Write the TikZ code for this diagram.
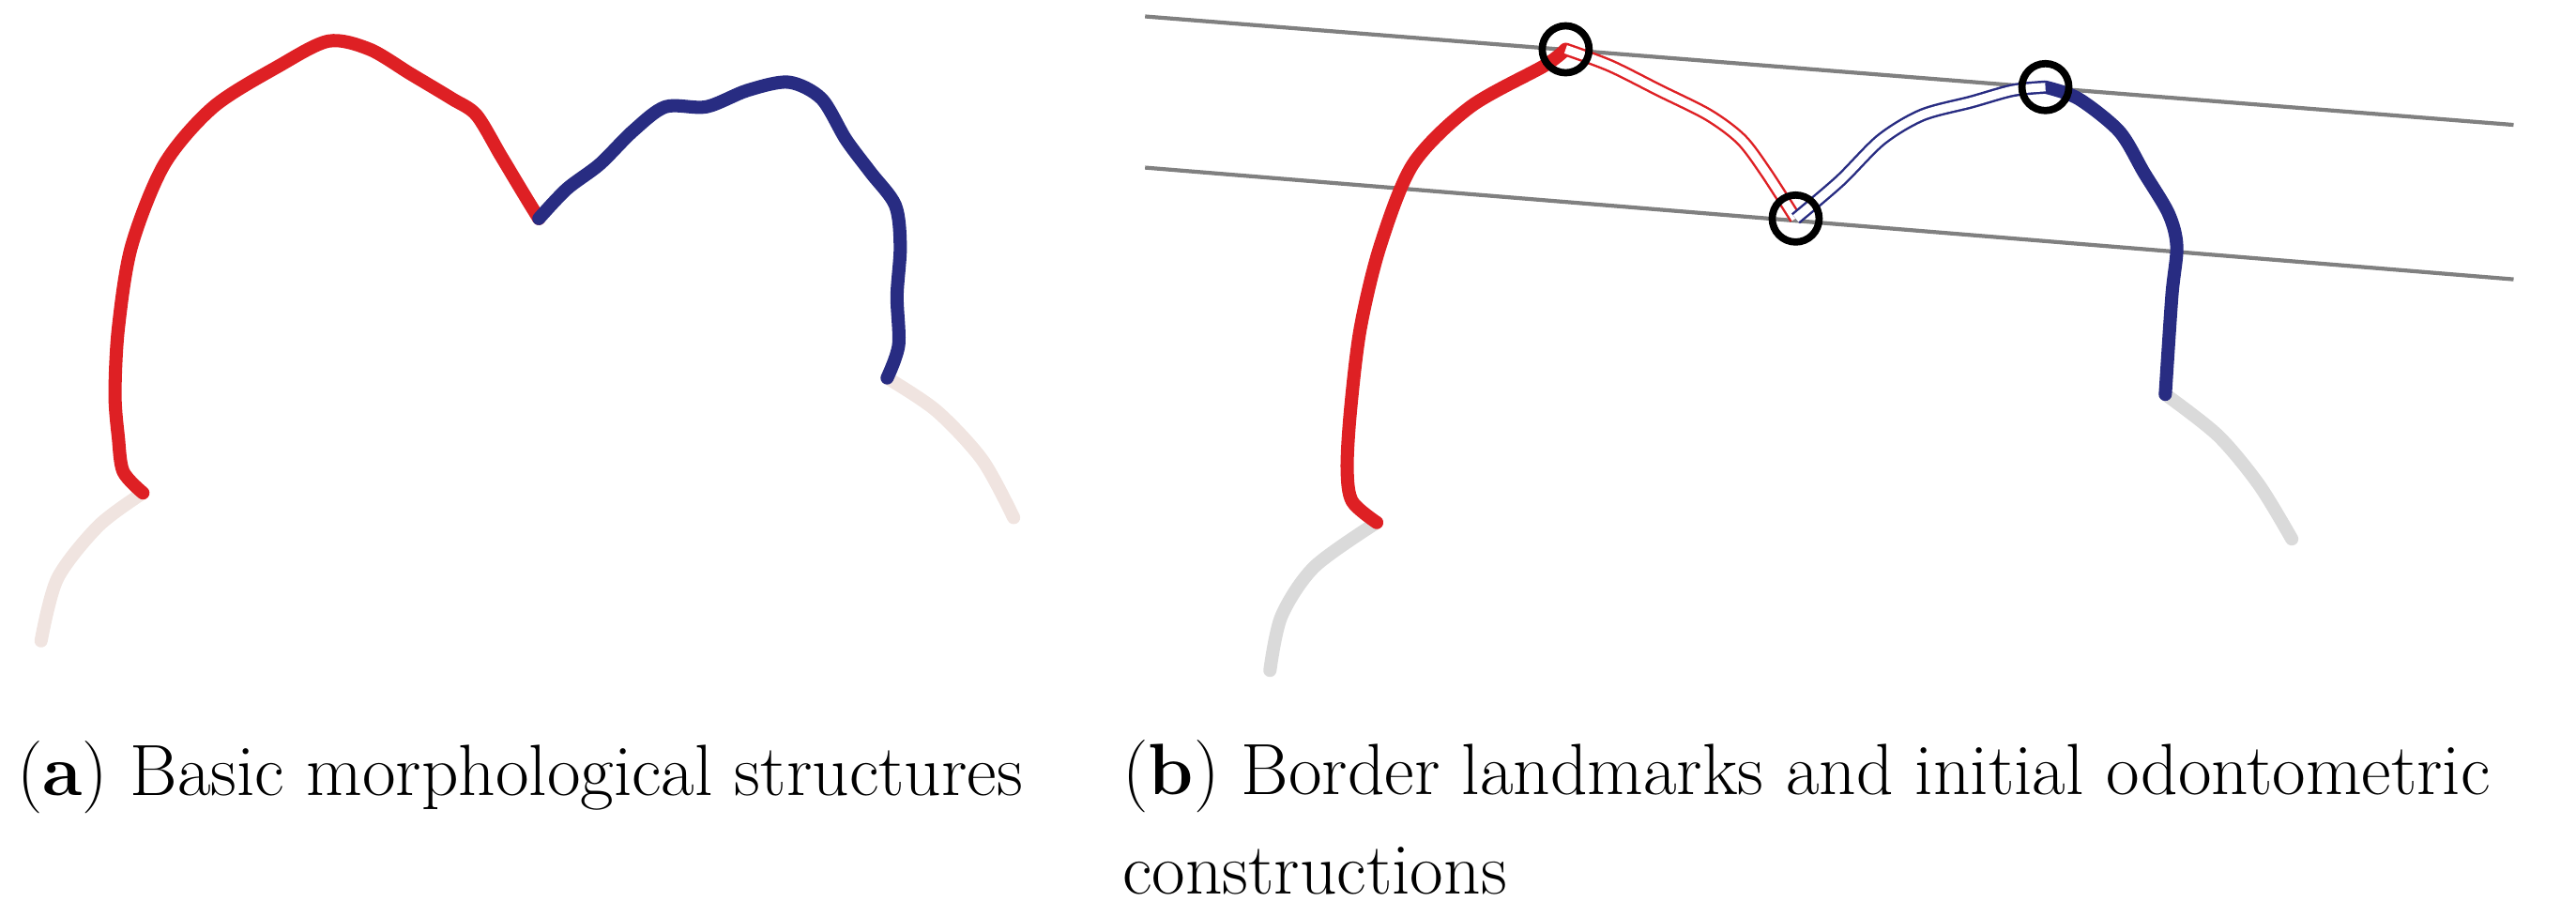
\documentclass[tikz,border=0pt]{standalone}
\usetikzlibrary{positioning}
\definecolor{crownred}{RGB}{222,32,36}
\definecolor{crownblue}{RGB}{40,44,130}
\definecolor{rootpale}{RGB}{240,228,224}
\definecolor{rootgray}{RGB}{218,218,218}
\tikzset{
	crown/.style={line width=4pt, line cap=round, line join=round},
	root/.style={line width=4pt, line cap=round},
	twin/.style={line width=0.7pt, double=white, double distance=2.6pt},
	landmark/.style={draw, circle, line width=2.2pt, minimum size=0.5cm, inner sep=0pt},
	caption/.style={font=\fontsize{22}{30}\selectfont, anchor=base west, align=left, inner sep=0pt}
}
\begin{document}
\begin{tikzpicture}[x=0.0175cm, y=-0.0175cm]
	\useasboundingbox (0,0) rectangle (1568,558);

	% panel a
	\draw [root, rootpale] plot[smooth] coordinates {(87,300) (60,320) (35,352) (25,390)};
	\draw [root, rootpale] plot[smooth] coordinates {(540,230) (570,250) (598,280) (617,315)};
	\draw [crown, crownred] plot[smooth, tension=0.5] coordinates {(87,300) (75,287) (72,266) (70,240) (72,200) (80,150) (100,100) (130,65) (170,40) (200,25) (225,30) (250,45) (275,60) (290,70) (305,95) (320,120) (328,133)};
	\draw [crown, crownblue] plot[smooth, tension=0.5] coordinates {(328,133) (345,115) (365,100) (385,80) (405,65) (430,65) (455,55) (480,50) (500,60) (515,85) (530,105) (545,125) (548,150) (546,180) (547,210) (540,230)};

	% panel b
	\draw [gray, line width=1.2pt] (697,10) -- (1530,76);
	\draw [gray, line width=1.2pt] (697,102) -- (1530,170);
	\draw [root, rootgray] plot[smooth] coordinates {(838,318) (800,345) (780,375) (773,408)};
	\draw [root, rootgray] plot[smooth] coordinates {(1318,240) (1350,265) (1375,295) (1395,328)};
	\draw [crown, crownred] plot[smooth, tension=0.5] coordinates {(838,318) (823,305) (820,285) (822,250) (828,200) (840,150) (860,100) (895,65) (940,40) (953,30)};
	\draw [crown, crownblue] plot[smooth, tension=0.5] coordinates {(1245,53) (1265,60) (1290,80) (1305,105) (1320,130) (1325,150) (1322,180) (1318,240)};
	\draw [twin, crownred] plot[smooth, tension=0.5] coordinates {(953,30) (980,40) (1010,55) (1040,70) (1060,85) (1075,105) (1093,133)};
	\draw [twin, crownblue] plot[smooth, tension=0.5] coordinates {(1093,133) (1120,110) (1145,85) (1170,70) (1200,62) (1225,55) (1245,53)};

	\node [landmark] (cuspL) at (953,30) {};
	\node [landmark] (fossa) at (1093,133) {};
	\node [landmark] (cuspR) at (1245,53) {};

	% captions
	\node [caption] (capA) at (10,484) {(\textbf{a}) Basic morphological structures};
	\node [caption] (capB) at (683,544) {(\textbf{b}) Border landmarks and initial odontometric\\constructions};
\end{tikzpicture}
\end{document}
